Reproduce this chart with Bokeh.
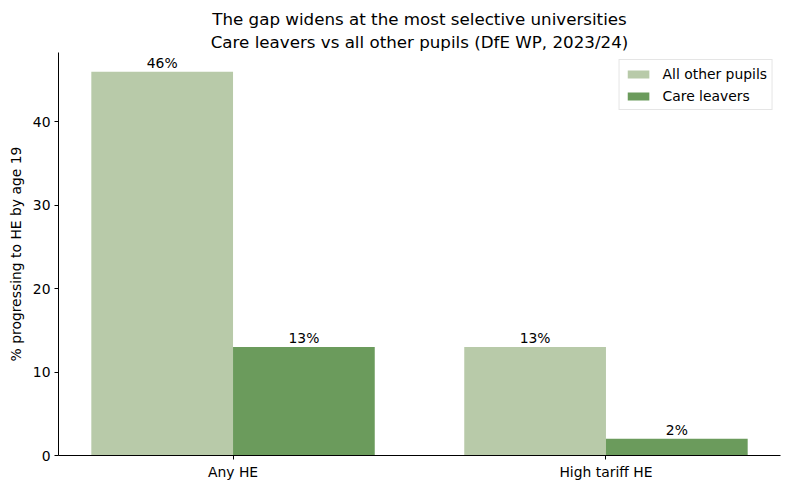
from bokeh.plotting import figure
from bokeh.models import ColumnDataSource, Range1d, Title, FixedTicker, Legend, LegendItem
from bokeh.transform import dodge
from bokeh.core.properties import value
from bokeh.embed import file_html
from bokeh.resources import INLINE

categories = ["Any HE", "High tariff HE"]
all_other_pupils = [46, 13]
care_leavers = [13, 2]
y_ticks = [0, 10, 20, 30, 40]

FONT = "DejaVu Sans"
FS = "13.9px"
LIGHT = "#b8caa9"
DARK = "#6b9b5c"
BAR_W = 0.38

xpos = list(range(len(categories)))
src = ColumnDataSource(dict(
    x=xpos,
    other=all_other_pupils,
    care=care_leavers,
    other_lbl=[f"{v}%" for v in all_other_pupils],
    care_lbl=[f"{v}%" for v in care_leavers],
))

p = figure(width=790, height=489, output_backend="svg", toolbar_location=None,
           x_range=Range1d(-0.468, 1.468), y_range=Range1d(0, max(all_other_pupils) * 1.05),
           min_border_left=58, min_border_right=10, min_border_top=52, min_border_bottom=34)

p.add_layout(Title(text="Care leavers vs all other pupils (DfE WP, 2023/24)", align="center",
                   text_font=FONT, text_font_size="16.7px", text_font_style="normal",
                   text_color="#000000", standoff=2), "above")
p.add_layout(Title(text="The gap widens at the most selective universities", align="center",
                   text_font=FONT, text_font_size="16.7px", text_font_style="normal",
                   text_color="#000000", standoff=0), "above")

r1 = p.vbar(x=dodge("x", -BAR_W / 2, range=p.x_range), top="other", width=BAR_W, source=src,
            fill_color=LIGHT, line_color=None)
r2 = p.vbar(x=dodge("x", BAR_W / 2, range=p.x_range), top="care", width=BAR_W, source=src,
            fill_color=DARK, line_color=None)

for col, lbl, off in [("other", "other_lbl", -BAR_W / 2), ("care", "care_lbl", BAR_W / 2)]:
    p.text(x=dodge("x", off, range=p.x_range), y=col, text=lbl, source=src,
           text_align="center", text_baseline="bottom", y_offset=-1,
           text_font=value(FONT), text_font_size=FS, text_color="#000000")

legend = Legend(items=[LegendItem(label="All other pupils", renderers=[r1]),
                       LegendItem(label="Care leavers", renderers=[r2])],
                location="top_right", margin=7, padding=5, spacing=5,
                glyph_width=27, glyph_height=10, label_height=17, label_standoff=11,
                label_text_font=FONT, label_text_font_size=FS, label_text_color="#000000",
                border_line_color="#cccccc", border_line_width=1,
                background_fill_alpha=0.8)
p.add_layout(legend, "center")

p.outline_line_color = None
p.grid.grid_line_color = None

p.xaxis.ticker = FixedTicker(ticks=xpos)
p.xaxis.major_label_overrides = {i: c for i, c in enumerate(categories)}
p.yaxis.ticker = FixedTicker(ticks=y_ticks)
p.yaxis.axis_label = "% progressing to HE by age 19"

for ax in (p.xaxis, p.yaxis):
    ax.minor_tick_line_color = None
    ax.major_tick_out = 4
    ax.major_tick_in = 0
    ax.axis_line_color = "#000000"
    ax.major_tick_line_color = "#000000"
    ax.major_label_text_font = FONT
    ax.major_label_text_font_size = FS
    ax.major_label_text_color = "#000000"
    ax.major_label_standoff = 4
    ax.axis_label_text_font = FONT
    ax.axis_label_text_font_size = FS
    ax.axis_label_text_font_style = "normal"
    ax.axis_label_text_color = "#000000"
p.yaxis.axis_label_standoff = 6

open("out.html", "w").write(file_html(p, INLINE))
